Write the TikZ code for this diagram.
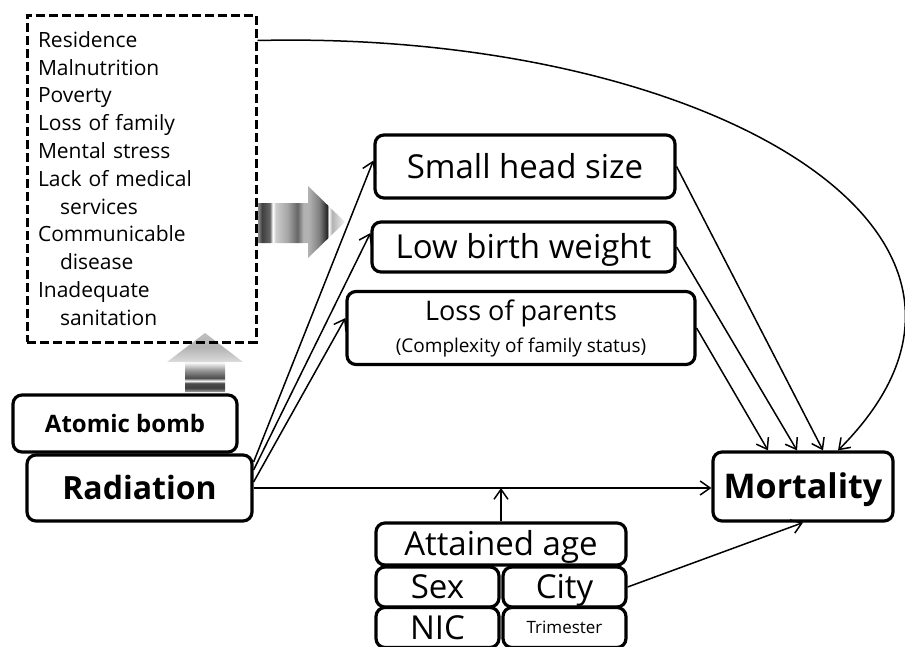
\documentclass[tikz,border=0pt]{standalone}
\usepackage{fontspec}
\setmainfont{Open Sans}
\usetikzlibrary{arrows.meta,positioning}

\pgfdeclarehorizontalshading{rightstripes}{100bp}{color(0bp)=(black!45); color(25bp)=(black!45);
  color(27.3bp)=(black!75); color(31.8bp)=(black!60); color(33.5bp)=(white); color(35.2bp)=(black!20);
  color(42bp)=(black!35); color(47.7bp)=(black!60); color(51.1bp)=(black!30); color(54bp)=(black!30);
  color(60.2bp)=(black!50); color(64.8bp)=(black!85); color(65.6bp)=(white); color(67.6bp)=(black!30);
  color(75bp)=(black!5); color(100bp)=(black!5)}
\pgfdeclareverticalshading{upstripes}{100bp}{color(0bp)=(black!35); color(25bp)=(black!35);
  color(28.4bp)=(black!75); color(32.6bp)=(black!70); color(34.3bp)=(white); color(36.9bp)=(black!70);
  color(43.6bp)=(black!40); color(50.4bp)=(white); color(51.3bp)=(black!15); color(63.1bp)=(black!30);
  color(75bp)=(black!25); color(100bp)=(black!25)}

\begin{document}
\begin{tikzpicture}[x=1pt, y=-1pt,
  box/.style = {draw, line width=3.2pt, rounded corners=9pt, inner sep=0pt, align=center},
  factorbox/.style = {draw, line width=3pt, dash pattern=on 9pt off 4pt, inner xsep=11pt, inner ysep=0pt, align=left},
  link/.style = {line width=1.5pt, -{Straight Barb[length=10pt,width=14pt]}},
  big/.style = {font=\fontsize{33}{38}\selectfont, text height=23.5pt, text depth=0pt},
  boldbig/.style = {font=\fontsize{#1}{#1}\selectfont\bfseries, text height=0.72*#1 pt, text depth=0pt},
  small/.style = {font=\fontsize{17}{20}\selectfont, text height=12pt, text depth=0pt}]
\useasboundingbox (0,0) rectangle (905,646);
\clip (0,0) rectangle (905,646);

% gradient arrows
\shade[shading=rightstripes] (258,203) -- (308,203) -- (308,186) -- (345,222) -- (308,258) -- (308,243) -- (258,243) -- cycle;
\shade[shading=upstripes] (185,392) -- (185,362) -- (167,362) -- (205,333) -- (243,362) -- (225,362) -- (225,392) -- cycle;

% confounders
\node[factorbox, text width=207pt, minimum height=327pt, font=\fontsize{21}{27.8}\selectfont] (factors) at (141.5,178.5)
  {Residence\\ Malnutrition\\ Poverty\\ Loss of family\\ Mental stress\\ Lack of medical\\ \hspace*{22pt}services\\
   Communicable\\ \hspace*{22pt}disease\\ Inadequate\\ \hspace*{22pt}sanitation};

% exposure
\node[box, boldbig=24, minimum width=224pt, minimum height=57pt] (bomb) at (125,423.5) {Atomic bomb};
\node[box, boldbig=32, minimum width=225pt, minimum height=66pt] (rad) at (139.5,488) {Radiation};

% mediators
\node[box, big, minimum width=300pt, minimum height=63pt] (head) at (525,166.5) {Small head size};
\node[box, big, minimum width=303pt, minimum height=50pt] (lbw) at (523.5,247) {Low birth weight};
\node[box, minimum width=348pt, minimum height=73pt, font=\fontsize{27}{31}\selectfont] (lop) at (521,328)
  {Loss of parents\\[1pt] {\fontsize{19}{22}\selectfont (Complexity of family status)}};

% outcome
\node[box, boldbig=34, minimum width=180pt, minimum height=69pt] (mort) at (803,486.5) {Mortality};

% covariates
\node[box, big, minimum width=250pt, minimum height=42pt] (age) at (501,544) {Attained age};
\node[box, big, minimum width=123pt, minimum height=40pt] (sex) at (437.5,587) {Sex};
\node[box, big, minimum width=123pt, minimum height=40pt] (city) at (564.5,587) {City};
\node[box, big, minimum width=123pt, minimum height=40pt] (nic) at (437.5,627.5) {NIC};
\node[box, small, minimum width=123pt, minimum height=40pt] (tri) at (564.5,627.5) {Trimester};

% paths
\draw[link] ([yshift=26pt]rad.east) -- ([yshift=6pt]head.west);
\draw[link] ([yshift=18pt]rad.east) -- ([yshift=14pt]lbw.west);
\draw[link] ([yshift=6pt]rad.east) -- ([yshift=10pt]lop.west);
\draw[link] (rad.east) -- (rad.east -| mort.west);
\draw[link] (age.north) -- (age.north |- rad.east);
\draw[link] (head.east) -- ([xshift=20pt]mort.north);
\draw[link] (lbw.east) -- ([xshift=-6pt]mort.north);
\draw[link] (lop.east) -- ([xshift=-35pt]mort.north);
\draw[link] (city.east) -- (mort.south);
\draw[link] ([yshift=-27pt]factors.north east) .. controls (700,30) and (1058,230) .. ([xshift=35pt]mort.north);
\end{tikzpicture}
\end{document}
